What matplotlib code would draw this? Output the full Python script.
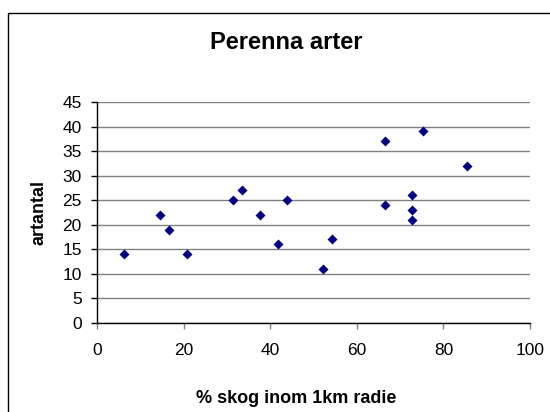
import matplotlib.pyplot as plt
from matplotlib.patches import Rectangle

# andel skog inom 1 km radie (%) och antal perenna arter per lokal
skog_pct = [6.3, 14.5, 16.6, 20.8, 31.5, 33.5, 37.7, 41.8, 43.8,
            52.1, 54.2, 66.5, 66.5, 72.7, 72.7, 72.7, 75.2, 85.4]
artantal = [14, 22, 19, 14, 25, 27, 22, 16, 25,
            11, 17, 37, 24, 26, 23, 21, 39, 32]

x_ticks = [0, 20, 40, 60, 80, 100]
y_ticks = [0, 5, 10, 15, 20, 25, 30, 35, 40, 45]

plt.rcParams['font.family'] = ['Liberation Sans', 'DejaVu Sans']

W, H = 550, 412
fig = plt.figure(figsize=(W / 100, H / 100), dpi=100)

# ram runt diagrammet
fig.patches.append(Rectangle((8 / W, -0.1), 1.2, 1.1 - 12.7 / H,
                             transform=fig.transFigure, fill=False,
                             edgecolor='#000000', linewidth=1.0))

ax = fig.add_axes([97 / W, 1 - 322.7 / H, 433 / W, 220.7 / H])
ax.scatter(skog_pct, artantal, marker='D', s=5.1 ** 2, color='#000080',
           linewidths=0, zorder=3)

ax.set_xlim(0, 100)
ax.set_ylim(0, 45)
ax.set_xticks(x_ticks)
ax.set_yticks(y_ticks)
ax.grid(axis='y', color='#808080', linewidth=1.0)
ax.set_axisbelow(True)
for side in ['top', 'right']:
    ax.spines[side].set_visible(False)
for side in ['left', 'bottom']:
    ax.spines[side].set_color('#000000')
    ax.spines[side].set_linewidth(1.0)
ax.tick_params(axis='x', direction='out', length=4.3, width=1.0,
               color='#808080', pad=10, labelsize=12.5)
ax.tick_params(axis='y', direction='out', length=4, width=1.0,
               color='#000000', pad=7, labelsize=12.5)

fig.text(286 / W, 1 - 49.3 / H, 'Perenna arter', ha='center', va='baseline',
         fontsize=17, fontweight='bold')
fig.text(296 / W, 1 - 403.3 / H, '% skog inom 1km radie', ha='center',
         va='baseline', fontsize=13, fontweight='bold')
fig.text(39 / W, 1 - 212.3 / H, 'artantal', ha='center', va='center',
         rotation=90, fontsize=13, fontweight='bold')

fig.savefig('out.png', dpi=100)
